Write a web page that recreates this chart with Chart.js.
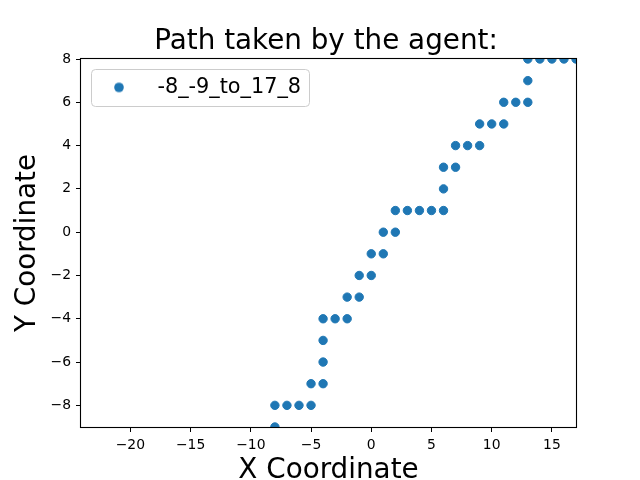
<!DOCTYPE html>
<html>
<head>
<meta charset="utf-8">
<script src="https://cdn.jsdelivr.net/npm/chart.js@4.4.1/dist/chart.umd.min.js"></script>
<style>
  body { margin: 0; background: #fff; }
</style>
</head>
<body>
<canvas id="myChart" width="640" height="480"></canvas>
<script>
'use strict'

// path of the agent, step by step
var pathX = [-8, -8, -7, -6, -5, -5, -4, -4, -4, -4, -3, -2, -2, -1, -1, 0, 0, 1, 1, 2, 2,
             3, 4, 5, 6, 6, 6, 7, 7, 8, 9, 9, 10, 11, 11, 12, 13, 13, 13, 14, 15, 16, 17];
var pathY = [-9, -8, -8, -8, -8, -7, -7, -6, -5, -4, -4, -4, -3, -3, -2, -2, -1, -1, 0, 0, 1,
             1, 1, 1, 1, 2, 3, 3, 4, 4, 4, 5, 5, 5, 6, 6, 6, 7, 8, 8, 8, 8, 8];
var pathLabel = '-8_-9_to_17_8';
var xTicks = [-20, -15, -10, -5, 0, 5, 10, 15];
var yTicks = [-8, -6, -4, -2, 0, 2, 4, 6, 8];

var points = pathX.map(function (x, i) { return { x: x, y: pathY[i] }; });

Chart.defaults.font.family = '"DejaVu Sans", sans-serif';
Chart.defaults.color = '#000';

function minus(v) { return String(v).replace('-', '\u2212'); }

// little round marker for the legend (so the handle can be wide like matplotlib)
var dot = document.createElement('canvas');
dot.width = 12;
dot.height = 12;
var dctx = dot.getContext('2d');
dctx.beginPath();
dctx.arc(6, 6, 4.8, 0, Math.PI * 2);
dctx.fillStyle = '#1f77b4';
dctx.fill();

var framePlugin = {
    id: 'frame',
    afterLayout: function (chart) {
        // put the legend inside the axes, top left
        var lg = chart.legend;
        var a = chart.chartArea;
        lg.top = a.top + 8;
        lg.bottom = a.bottom;
    },
    beforeDraw: function (chart) {
        var c = chart.ctx;
        var lg = chart.legend;
        var x = lg.left + 10.5, y = lg.top + 2.5, w = 218, h = 37;
        c.save();
        c.beginPath();
        c.roundRect(x, y, w, h, 4);
        c.fillStyle = 'rgba(255,255,255,0.8)';
        c.fill();
        c.strokeStyle = '#cccccc';
        c.lineWidth = 1;
        c.stroke();
        c.restore();
    },
    afterDraw: function (chart) {
        var a = chart.chartArea;
        var c = chart.ctx;
        c.save();
        c.strokeStyle = '#000';
        c.lineWidth = 1.1;
        c.strokeRect(a.left - 0.5, a.top - 0.5, a.right - a.left + 1, a.bottom - a.top + 1);
        c.restore();
    }
};

var ctx = document.getElementById('myChart').getContext('2d');
var myChart = new Chart(ctx, {
    type: 'scatter',
    data: {
        datasets: [{
            label: pathLabel,
            data: points,
            backgroundColor: '#1f77b4',
            borderColor: '#1f77b4',
            borderWidth: 1,
            pointRadius: 4.2,
            pointHoverRadius: 4.2,
            clip: 0
        }]
    },
    options: {
        responsive: false,
        animation: false,
        layout: {
            padding: { left: 12, right: 0, top: 0, bottom: 0 }
        },
        plugins: {
            title: {
                display: true,
                text: 'Path taken by the agent:',
                color: '#000',
                font: { size: 27.8, weight: 'normal', lineHeight: 1 },
                padding: { top: 27.6, bottom: 3.6 }
            },
            legend: {
                position: 'chartArea',
                align: 'start',
                labels: {
                    usePointStyle: true,
                    pointStyle: dot,
                    pointStyleWidth: 56,
                    padding: 10,
                    color: '#000',
                    font: { size: 20.8 }
                }
            },
            tooltip: { enabled: false }
        },
        scales: {
            x: {
                type: 'linear',
                min: -24.1,
                max: 17,
                afterFit: function (s) { s.height = 53; },
                afterBuildTicks: function (s) { s.ticks = xTicks.map(function (v) { return { value: v }; }); },
                border: { display: false },
                grid: { drawOnChartArea: false, drawTicks: true, tickLength: 5, tickColor: '#000', lineWidth: 1 },
                ticks: { padding: 5, color: '#000', font: { size: 13.9 }, callback: minus },
                title: {
                    display: true,
                    text: 'X Coordinate',
                    color: '#000',
                    font: { size: 27.8, lineHeight: 1 },
                    padding: { top: 0, bottom: -5 }
                }
            },
            y: {
                type: 'linear',
                min: -9,
                max: 8,
                afterFit: function (s) { s.width = 69; },
                afterBuildTicks: function (s) { s.ticks = yTicks.map(function (v) { return { value: v }; }); },
                border: { display: false },
                grid: { drawOnChartArea: false, drawTicks: true, tickLength: 5, tickColor: '#000', lineWidth: 1 },
                ticks: { padding: 5, color: '#000', font: { size: 13.9 }, callback: minus },
                title: {
                    display: true,
                    text: 'Y Coordinate',
                    color: '#000',
                    font: { size: 27.8, lineHeight: 1 },
                    padding: { top: 2, bottom: 0 }
                }
            },
            // empty right-hand axis, only keeps the space matplotlib leaves there
            yRight: {
                type: 'linear',
                position: 'right',
                min: -9,
                max: 8,
                afterFit: function (s) { s.width = 64; },
                border: { display: false },
                grid: { display: false },
                ticks: { display: false }
            }
        }
    },
    plugins: [framePlugin]
});
</script>
</body>
</html>
